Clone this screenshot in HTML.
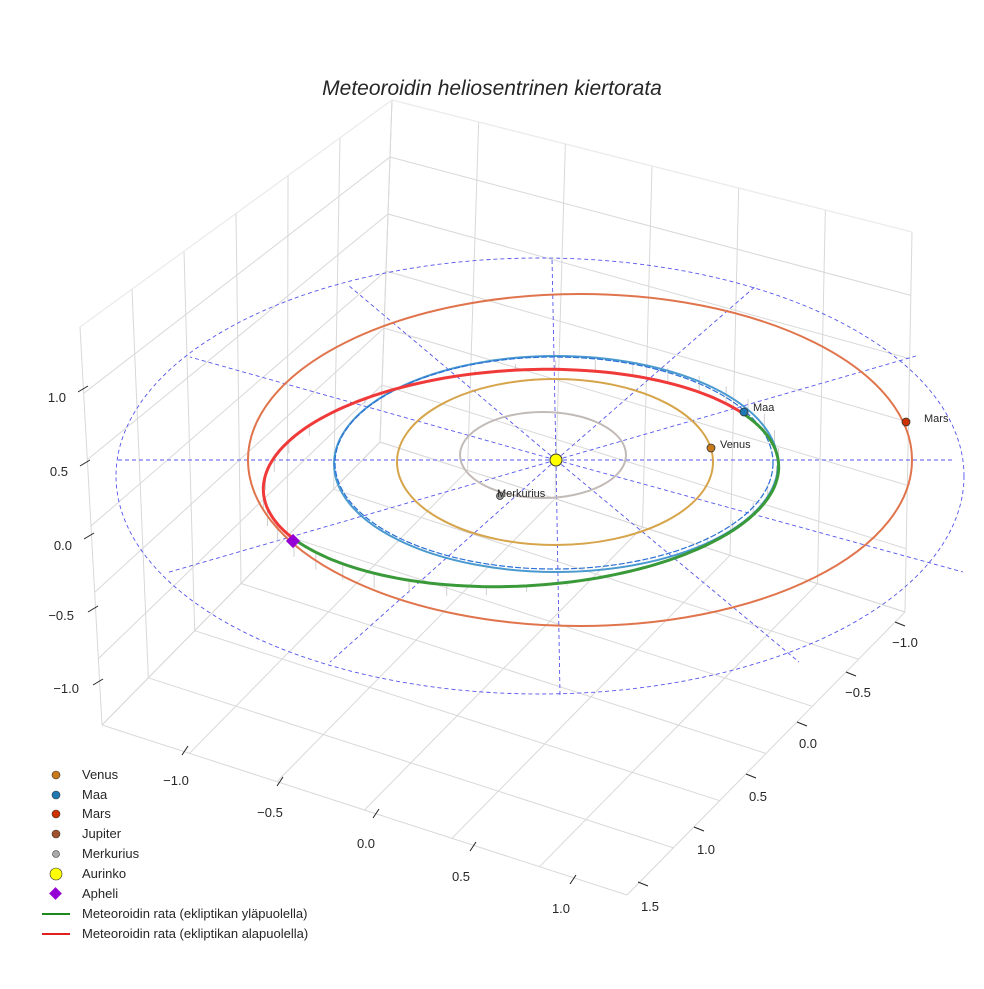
<!DOCTYPE html>
<html><head><meta charset="utf-8"><style>
html,body{margin:0;padding:0;background:#fff}
svg text{font-family:"Liberation Sans",sans-serif;fill:#262626}
</style></head><body>
<svg id="s" width="984" height="984" viewBox="0 0 984 984" xmlns="http://www.w3.org/2000/svg">
<rect width="984" height="984" fill="#fff"/>
<g id="grid" stroke="#d8d8d8" stroke-width="1" fill="none"></g>
<g fill="none">
<ellipse cx="540" cy="476" rx="424" ry="218" stroke="#5555ee" stroke-width="0.9" stroke-dasharray="4,3"/>
<g stroke="#5555ee" stroke-width="0.9" stroke-dasharray="4,3">
<line x1="556" y1="460" x2="955" y2="460"/><line x1="556" y1="460" x2="118" y2="460"/>
<line x1="556" y1="460" x2="552" y2="258"/><line x1="556" y1="460" x2="560" y2="695"/>
<line x1="556" y1="460" x2="348" y2="285"/><line x1="556" y1="460" x2="190" y2="357"/>
<line x1="556" y1="460" x2="757" y2="285"/><line x1="556" y1="460" x2="916" y2="356"/>
<line x1="556" y1="460" x2="166" y2="573"/><line x1="556" y1="460" x2="330" y2="662"/>
<line x1="556" y1="460" x2="799" y2="662"/><line x1="556" y1="460" x2="963" y2="572"/>
</g>
<g id="stems" stroke="#c4c4c4" stroke-width="0.8"></g>
<ellipse cx="543" cy="455" rx="83" ry="43" stroke="#c2bab6" stroke-width="2"/>
<ellipse cx="555" cy="462" rx="158" ry="83" stroke="#d6a44a" stroke-width="2"/>
<ellipse cx="556" cy="464" rx="222" ry="108" stroke="#4a9ad0" stroke-width="2"/>
<ellipse cx="554" cy="463" rx="219" ry="106" stroke="#2a6fd6" stroke-width="1.2" stroke-dasharray="6,2"/>
<ellipse cx="580" cy="460" rx="332" ry="166" stroke="#e0744c" stroke-width="2"/>
<polyline id="red" stroke="#f03a3a" stroke-width="3" stroke-linejoin="round"/>
<polyline id="green" stroke="#3a9a3a" stroke-width="3" stroke-linejoin="round"/>
</g>
<g stroke="#222" stroke-width="1">
<line x1="78" y1="392" x2="88" y2="386"/><line x1="80" y1="466" x2="90" y2="460"/>
<line x1="84" y1="539" x2="94" y2="533"/><line x1="88" y1="612" x2="98" y2="606"/>
<line x1="93" y1="685" x2="103" y2="679"/>
<line x1="182" y1="755" x2="188" y2="746"/><line x1="277" y1="786" x2="283" y2="777"/>
<line x1="373" y1="818" x2="379" y2="809"/><line x1="470" y1="851" x2="476" y2="842"/>
<line x1="570" y1="884" x2="576" y2="875"/>
<line x1="895" y1="622" x2="905" y2="626"/><line x1="846" y1="672" x2="856" y2="676"/>
<line x1="797" y1="722" x2="807" y2="726"/><line x1="746" y1="774" x2="756" y2="778"/>
<line x1="694" y1="827" x2="704" y2="831"/><line x1="638" y1="882" x2="648" y2="886"/>
</g>
<g font-size="13">
<text x="66" y="402" text-anchor="end">1.0</text>
<text x="68" y="476" text-anchor="end">0.5</text>
<text x="72" y="550" text-anchor="end">0.0</text>
<text x="74" y="620" text-anchor="end">−0.5</text>
<text x="79" y="693" text-anchor="end">−1.0</text>
<text x="176" y="785" text-anchor="middle">−1.0</text>
<text x="270" y="817" text-anchor="middle">−0.5</text>
<text x="366" y="848" text-anchor="middle">0.0</text>
<text x="461" y="881" text-anchor="middle">0.5</text>
<text x="561" y="913" text-anchor="middle">1.0</text>
<text x="905" y="647" text-anchor="middle">−1.0</text>
<text x="858" y="697" text-anchor="middle">−0.5</text>
<text x="808" y="748" text-anchor="middle">0.0</text>
<text x="758" y="801" text-anchor="middle">0.5</text>
<text x="706" y="854" text-anchor="middle">1.0</text>
<text x="650" y="911" text-anchor="middle">1.5</text>
</g>
<circle cx="711" cy="448" r="4" fill="#c87a1a" stroke="#333" stroke-width="0.8"/>
<circle cx="744" cy="412" r="4" fill="#1f77b4" stroke="#333" stroke-width="0.8"/>
<circle cx="906" cy="422" r="4" fill="#cc3300" stroke="#333" stroke-width="0.8"/>
<circle cx="500" cy="496" r="3.5" fill="#999" stroke="#333" stroke-width="0.8"/>
<circle cx="556" cy="460" r="6" fill="#ffff00" stroke="#333" stroke-width="1"/>
<rect x="288" y="536" width="10" height="10" fill="#9400d3" transform="rotate(45 293 541)"/>
<g font-size="11">
<text x="753" y="411">Maa</text>
<text x="720" y="448">Venus</text>
<text x="924" y="422">Mars</text>
<text x="497" y="497">Merkurius</text>
</g>
<text x="492" y="95" font-size="21" font-style="italic" text-anchor="middle">Meteoroidin heliosentrinen kiertorata</text>
<g stroke="#333" stroke-width="0.6">
<circle cx="56" cy="775" r="4" fill="#c87a1a"/>
<circle cx="56" cy="795" r="4" fill="#1f77b4"/>
<circle cx="56" cy="814" r="4" fill="#cc3300"/>
<circle cx="56" cy="834" r="4" fill="#a0522d"/>
<circle cx="56" cy="854" r="3.5" fill="#aaa"/>
<circle cx="56" cy="874" r="6" fill="#ffff00"/>
</g>
<rect x="51" y="889" width="9" height="9" fill="#9400d3" transform="rotate(45 55.5 893.5)"/>
<line x1="42" y1="914" x2="70" y2="914" stroke="#1a8a1a" stroke-width="2"/>
<line x1="42" y1="934" x2="70" y2="934" stroke="#e02020" stroke-width="2"/>
<g font-size="13">
<text x="82" y="779">Venus</text><text x="82" y="799">Maa</text><text x="82" y="818">Mars</text>
<text x="82" y="838">Jupiter</text><text x="82" y="858">Merkurius</text><text x="82" y="878">Aurinko</text>
<text x="82" y="898">Apheli</text>
<text x="82" y="918">Meteoroidin rata (ekliptikan yläpuolella)</text>
<text x="82" y="938">Meteoroidin rata (ekliptikan alapuolella)</text>
</g>
</svg>
<script>
(function(){
var g=document.getElementById('grid'),ns='http://www.w3.org/2000/svg';
function L(a,b,c,p){var l=document.createElementNS(ns,'line');l.setAttribute('x1',a[0]);l.setAttribute('y1',a[1]);l.setAttribute('x2',b[0]);l.setAttribute('y2',b[1]);if(c)l.setAttribute('stroke',c);(p||g).appendChild(l);}
function lerp(a,b,t){return[a[0]+(b[0]-a[0])*t,a[1]+(b[1]-a[1])*t];}
var A=[102,725],B=[627,895],C=[905,612],D=[380,442],At=[80,327],Dt=[392,100],Ct=[912,232];
function quad(p00,p10,p11,p01,n,m){
 for(var i=0;i<=n;i++){var t=i/n;L(lerp(p00,p10,t),lerp(p01,p11,t));}
 for(var j=0;j<=m;j++){var s=j/m;L(lerp(p00,p01,s),lerp(p10,p11,s));}
}
quad(A,B,C,D,6,6);
quad(A,D,Dt,At,6,6);
quad(D,C,Ct,Dt,6,6);
L(At,Dt,'#ececec');L(Dt,Ct,'#ececec');
var c=Math.cos(-3*Math.PI/180),s=Math.sin(-3*Math.PI/180);
function P(deg){var t=deg*Math.PI/180;var u=258*Math.cos(t),v=-108*Math.sin(t);return [521+u*c-v*s,478+u*s+v*c];}
function pts(a,b){var r=[];for(var d=a;d<=b+0.01;d+=2){var p=P(d);r.push(p[0].toFixed(1)+','+p[1].toFixed(1));}return r.join(' ');}
document.getElementById('red').setAttribute('points',pts(30,208));
document.getElementById('green').setAttribute('points',pts(208,390));
var st=document.getElementById('stems');
for(var k=0;k<40;k++){var d=k*9;var p=P(d);var h=(Math.sin((d-110)*Math.PI/180))*18;L(p,[p[0],p[1]+h],null,st);}
})();
</script>
</body></html>
